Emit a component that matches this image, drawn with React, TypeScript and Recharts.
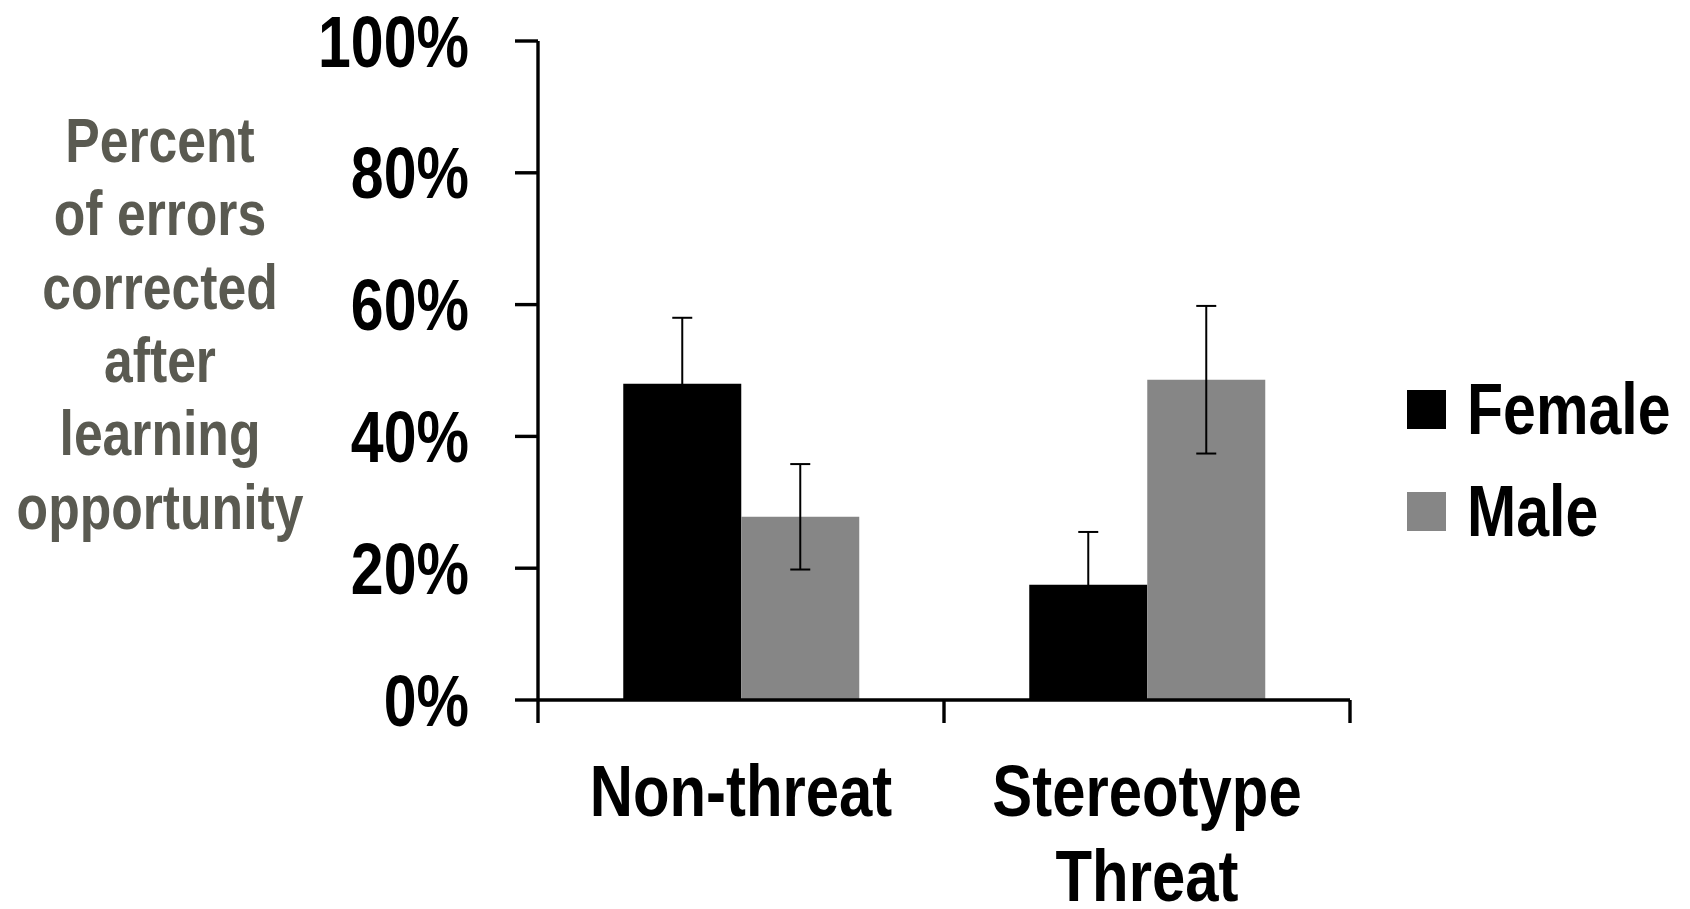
import React from 'react';
import { BarChart, Bar, XAxis, YAxis, ErrorBar, Legend } from 'recharts';

const categories = ['Non-threat', 'Stereotype Threat'];
const female = [48, 17.5];
const male = [27.8, 48.6];
const femaleErr = [10, 8];
const maleErr = [8, 11.2];
const yTicks = [0, 20, 40, 60, 80, 100];
const titleLines = ['Percent', 'of errors', 'corrected', 'after', 'learning', 'opportunity'];

const COLORS: Record<string, string> = { female: '#000000', male: '#868686' };

// no narrow face installed, so squeeze Liberation Sans Bold to look like Arial Narrow Bold
const FONT = "'Liberation Sans', Arial, sans-serif";
const NARROW = 0.82;
const LINE_W = 3.4;

const data = categories.map((name, i) => ({
  name,
  female: female[i],
  male: male[i],
  femaleErr: femaleErr[i],
  maleErr: maleErr[i],
}));

const PercentTick = (props: any) => {
  const { x, y, payload } = props;
  return (
    <text
      transform={`translate(${x},${y}) scale(${NARROW},1)`}
      textAnchor="end"
      dy="0.355em"
      fontFamily={FONT}
      fontWeight="bold"
      fontSize={72}
      fill="#000"
    >
      {`${payload.value}%`}
    </text>
  );
};

const CategoryTick = (props: any) => {
  const { x, y, payload, index } = props;
  const half = payload.offset || 0;
  const axisY = y - 23;
  const lines = String(payload.value).split(' ');
  return (
    <g>
      <line x1={x - half} x2={x - half} y1={axisY} y2={y} stroke="#000" strokeWidth={LINE_W} />
      {index === categories.length - 1 && (
        <line x1={x + half} x2={x + half} y1={axisY} y2={y} stroke="#000" strokeWidth={LINE_W} />
      )}
      {lines.map((l, i) => (
        <text
          key={i}
          transform={`translate(${x},${y + 93 + i * 85}) scale(${NARROW},1)`}
          textAnchor="middle"
          fontFamily={FONT}
          fontWeight="bold"
          fontSize={73}
          fill="#000"
        >
          {l}
        </text>
      ))}
    </g>
  );
};

const AxisTitle = (props: any) => {
  const vb = props.viewBox || { x: 0 };
  return (
    <g>
      {titleLines.map((l, i) => (
        <text
          key={i}
          transform={`translate(${vb.x + 160},${162 + i * 73.3}) scale(${NARROW},1)`}
          textAnchor="middle"
          fontFamily={FONT}
          fontWeight="bold"
          fontSize={63}
          fill="#5a5a51"
        >
          {l}
        </text>
      ))}
    </g>
  );
};

const LegendBox = (props: any) => (
  <div style={{ whiteSpace: 'nowrap' }}>
    {(props.payload || []).map((p: any) => (
      <div key={p.value} style={{ display: 'flex', alignItems: 'center', height: 102 }}>
        <div
          style={{
            width: 39,
            height: 39,
            flexShrink: 0,
            background: COLORS[p.dataKey] || p.color,
            marginRight: 21,
          }}
        />
        <span
          style={{
            display: 'inline-block',
            fontFamily: FONT,
            fontWeight: 'bold',
            fontSize: 72,
            lineHeight: 1,
            color: '#000',
            transform: `scaleX(${NARROW})`,
            transformOrigin: 'left center',
          }}
        >
          {p.value}
        </span>
      </div>
    ))}
  </div>
);

export default function App() {
  return (
    <div style={{ position: 'absolute', left: 0, top: 0, width: 1690, height: 909, background: '#fff' }}>
      <BarChart
        width={1690}
        height={909}
        data={data}
        margin={{ top: 41, right: 340, bottom: 0, left: 0 }}
        barCategoryGap="21%"
        barGap={0}
      >
        <XAxis
          dataKey="name"
          height={209}
          axisLine={{ stroke: '#000', strokeWidth: LINE_W }}
          tickLine={false}
          tickSize={23}
          tickMargin={0}
          tick={<CategoryTick />}
          interval={0}
        />
        <XAxis
          xAxisId="top"
          dataKey="name"
          orientation="top"
          height={0}
          axisLine={{ stroke: '#000', strokeWidth: LINE_W }}
          tick={false}
          tickLine={false}
        />
        <YAxis
          width={538}
          domain={[0, 100]}
          ticks={yTicks}
          axisLine={{ stroke: '#000', strokeWidth: LINE_W }}
          tickLine={{ stroke: '#000', strokeWidth: LINE_W }}
          tickSize={23}
          tickMargin={46}
          tick={<PercentTick />}
          label={{ content: <AxisTitle /> }}
        />
        <YAxis
          yAxisId="right"
          orientation="right"
          width={0}
          domain={[0, 100]}
          axisLine={{ stroke: '#000', strokeWidth: LINE_W }}
          tick={false}
          tickLine={false}
        />
        <Legend
          layout="vertical"
          content={<LegendBox />}
          wrapperStyle={{ position: 'absolute', left: 1407, top: 358, width: 0, height: 0, overflow: 'visible' }}
        />
        <Bar dataKey="female" name="Female" fill={COLORS.female} isAnimationActive={false}>
          <ErrorBar dataKey="femaleErr" width={10} strokeWidth={2} stroke="#000" />
        </Bar>
        <Bar dataKey="male" name="Male" fill={COLORS.male} isAnimationActive={false}>
          <ErrorBar dataKey="maleErr" width={10} strokeWidth={2} stroke="#000" />
        </Bar>
      </BarChart>
    </div>
  );
}
